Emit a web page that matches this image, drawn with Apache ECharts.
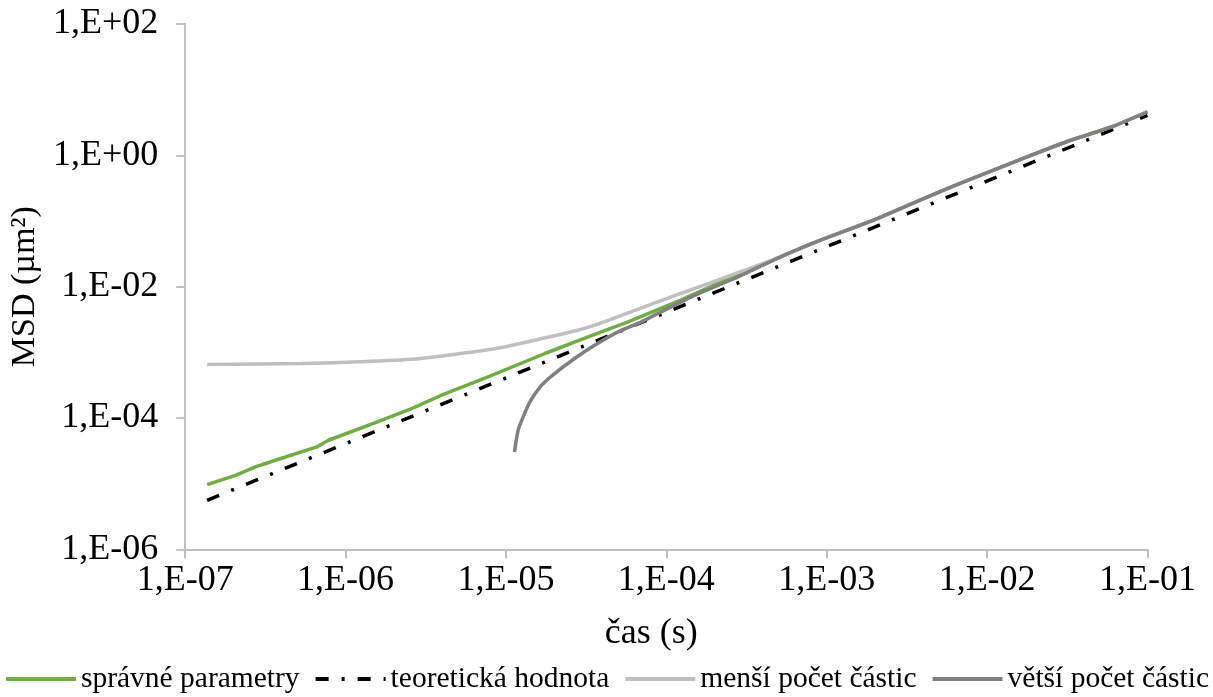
<!DOCTYPE html>
<html>
<head>
<meta charset="utf-8">
<script src="https://cdn.jsdelivr.net/npm/echarts@6/dist/echarts.min.js"></script>
<style>
html,body{margin:0;padding:0;background:#fff;}
#chart{width:1213px;height:697px;}
</style>
</head>
<body>
<div id="chart"></div>
<script>
// ---- data (time in s, MSD in µm²) ----
const seriesNames = ['správné parametry', 'teoretická hodnota', 'menší počet částic', 'větší počet částic'];

const greenT = [1.37e-7, 2.06e-7, 2.74e-7, 3.65e-7, 6.62e-7, 7.82e-7, 1.52e-6, 2.58e-6, 3.96e-6, 7.73e-6, 1.75e-5, 3.25e-5, 5.77e-5, 1.23e-4, 2.90e-4, 5.15e-4, 9.14e-4, 1.96e-3, 3.82e-3, 6.78e-3, 1.68e-2, 3.13e-2, 6.08e-2, 1.0e-1];
const greenMSD = [9.68e-6, 1.34e-5, 1.80e-5, 2.27e-5, 3.62e-5, 4.58e-5, 8.41e-5, 1.39e-4, 2.22e-4, 4.22e-4, 9.59e-4, 1.72e-3, 2.91e-3, 6.22e-3, 1.61e-2, 2.85e-2, 5.11e-2, 0.103, 0.208, 0.374, 0.899, 1.61, 2.75, 4.61];

const theoT = [1.37e-7, 1.0e-4, 1.0e-1];
const theoMSD = [5.58e-6, 4.07e-3, 4.06];

const lessT = [1.37e-7, 5.33e-7, 1.1e-6, 2.58e-6, 4.0e-6, 5.81e-6, 9.39e-6, 1.51e-5, 2.81e-5, 3.93e-5, 6.01e-5, 1.23e-4, 2.54e-4, 5.15e-4, 9.14e-4, 1.96e-3, 3.82e-3, 6.78e-3, 1.68e-2, 3.13e-2, 6.08e-2, 1.0e-1];
const lessMSD = [6.52e-4, 6.75e-4, 7.1e-4, 7.85e-4, 8.8e-4, 9.93e-4, 1.18e-3, 1.53e-3, 2.17e-3, 2.81e-3, 4.13e-3, 7.87e-3, 1.50e-2, 2.85e-2, 5.11e-2, 0.103, 0.208, 0.374, 0.899, 1.61, 2.75, 4.61];

const moreT = [1.13e-5, 1.19e-5, 1.28e-5, 1.41e-5, 1.67e-5, 2.01e-5, 2.68e-5, 3.57e-5, 5.00e-5, 6.98e-5, 1.43e-4, 2.65e-4, 5.15e-4, 9.14e-4, 1.96e-3, 3.82e-3, 6.78e-3, 1.68e-2, 3.13e-2, 6.08e-2, 1.0e-1];
const moreMSD = [3.04e-5, 6.50e-5, 1.04e-4, 1.76e-4, 3.16e-4, 4.75e-4, 8.05e-4, 1.28e-3, 2.05e-3, 2.91e-3, 7.00e-3, 1.33e-2, 2.85e-2, 5.11e-2, 0.103, 0.208, 0.374, 0.899, 1.61, 2.75, 4.61];

const xTickExps = [-7, -6, -5, -4, -3, -2, -1];
const xTickLabels = ['1,E-07', '1,E-06', '1,E-05', '1,E-04', '1,E-03', '1,E-02', '1,E-01'];
const yTickExps = [-6, -4, -2, 0, 2];
const yTickLabels = ['1,E-06', '1,E-04', '1,E-02', '1,E+00', '1,E+02'];

const xTitle = 'čas (s)';
const yTitle = 'MSD (µm²)';

// ---- build ----
function pairs(t, v) { return t.map((x, i) => [x, v[i]]); }
function lab(exps, labels) {
  return function (val) {
    const e = Math.round(Math.log10(val));
    const i = exps.indexOf(e);
    return i >= 0 ? labels[i] : '';
  };
}
const FONT = '"Liberation Serif", "Times New Roman", serif';
const axisGray = '#BFBFBF';

const chart = echarts.init(document.getElementById('chart'), null, { renderer: 'canvas' });
chart.setOption({
  animation: false,
  backgroundColor: '#ffffff',
  grid: { left: 183, right: 65.5, top: 24, bottom: 147.7 },
  legend: {
    left: 'center',
    top: 664,
    padding: 0,
    width: 1213,
    itemWidth: 70,
    itemHeight: 14,
    itemGap: 14,
    itemStyle: { opacity: 0, color: 'rgba(0,0,0,0)', borderWidth: 0 },
    lineStyle: { width: 4 },
    textStyle: { fontFamily: FONT, fontSize: 29.5, color: '#000' },
    data: seriesNames
  },
  xAxis: {
    type: 'log',
    logBase: 10,
    min: 1e-7,
    max: 1e-1,
    interval: 1,
    splitNumber: 6,
    name: xTitle,
    nameLocation: 'middle',
    nameGap: 66,
    nameTextStyle: { fontFamily: FONT, fontSize: 36, color: '#000', padding: [0, 30, 0, 0] },
    axisLine: { show: true, onZero: false, lineStyle: { color: axisGray, width: 2 } },
    axisTick: { show: true, length: 9, lineStyle: { color: axisGray, width: 2 } },
    minorTick: { show: false },
    splitLine: { show: false },
    axisLabel: { fontFamily: FONT, fontSize: 36, color: '#000', margin: 13, formatter: lab(xTickExps, xTickLabels) }
  },
  yAxis: {
    type: 'log',
    logBase: 10,
    min: 1e-6,
    max: 1e2,
    interval: 2,
    splitNumber: 4,
    name: yTitle,
    nameLocation: 'middle',
    nameGap: 137,
    nameRotate: 90,
    nameTextStyle: { fontFamily: FONT, fontSize: 34, color: '#000' },
    axisLine: { show: true, onZero: false, lineStyle: { color: axisGray, width: 2 } },
    axisTick: { show: true, length: 9, lineStyle: { color: axisGray, width: 2 } },
    minorTick: { show: false },
    splitLine: { show: false },
    axisLabel: { fontFamily: FONT, fontSize: 36, color: '#000', margin: 27, formatter: lab(yTickExps, yTickLabels) }
  },
  series: [
    {
      name: seriesNames[0], type: 'line', data: pairs(greenT, greenMSD),
      symbol: 'none', showSymbol: false, smooth: false,
      lineStyle: { color: '#70AD47', width: 3.5 }, itemStyle: { color: '#70AD47' }
    },
    {
      name: seriesNames[1], type: 'line', data: pairs(theoT, theoMSD),
      symbol: 'none', showSymbol: false,
      lineStyle: { color: '#000000', width: 3.5, type: [13, 13, 3, 13], cap: 'butt' }, itemStyle: { color: '#000' }
    },
    {
      name: seriesNames[2], type: 'line', data: pairs(lessT, lessMSD),
      symbol: 'none', showSymbol: false, smooth: 0.3,
      lineStyle: { color: '#BFBFBF', width: 3.5 }, itemStyle: { color: '#BFBFBF' }
    },
    {
      name: seriesNames[3], type: 'line', data: pairs(moreT, moreMSD),
      symbol: 'none', showSymbol: false, smooth: 0.2,
      lineStyle: { color: '#808080', width: 3.5 }, itemStyle: { color: '#808080' }
    }
  ]
});
</script>
</body>
</html>
